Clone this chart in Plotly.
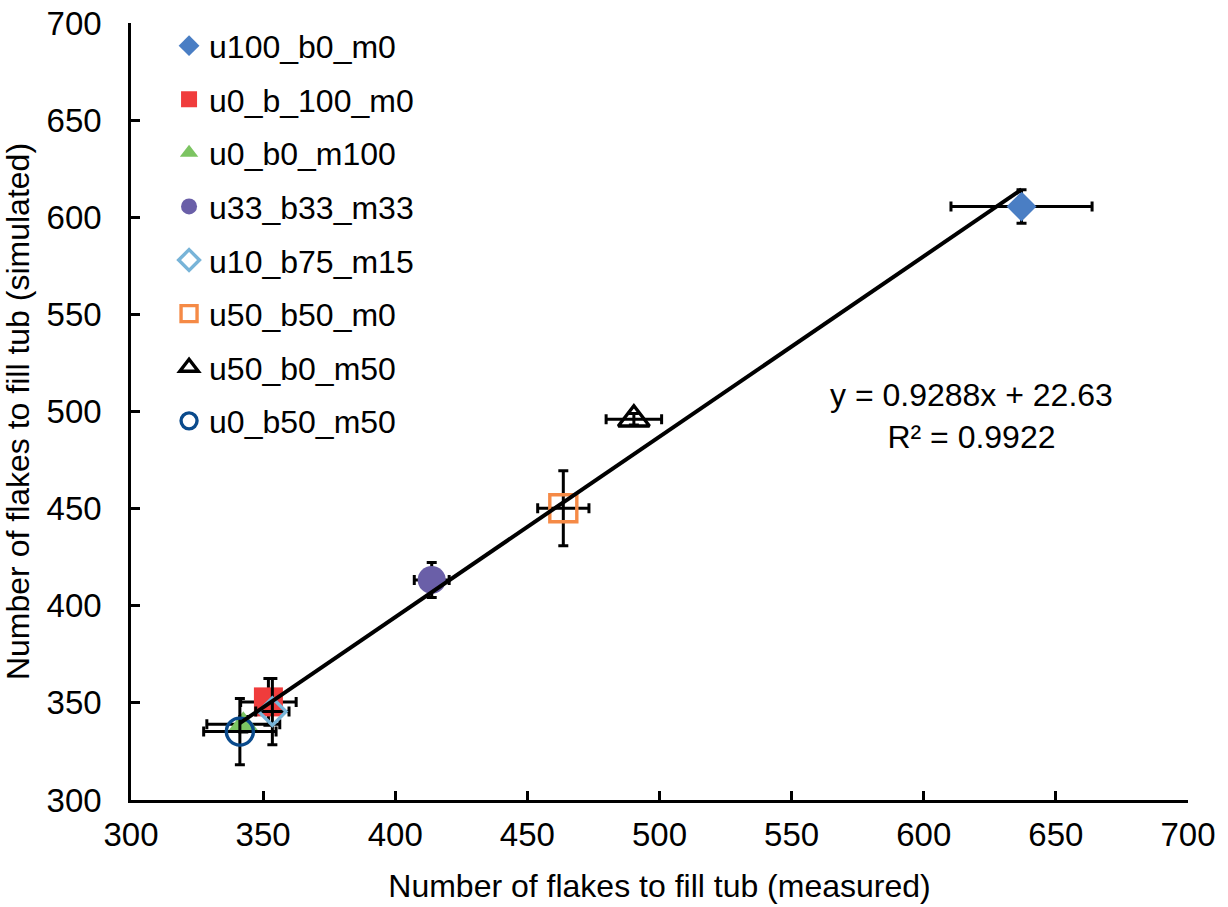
import plotly.graph_objects as go

names = ["u100_b0_m0", "u0_b_100_m0", "u0_b0_m100", "u33_b33_m33",
         "u10_b75_m15", "u50_b50_m0", "u50_b0_m50", "u0_b50_m50"]
x_measured = [637.0, 352.0, 342.5, 413.8, 353.5, 463.6, 490.3, 341.2]
y_simulated = [605.5, 350.5, 339.0, 413.3, 345.5, 450.2, 496.0, 335.2]
x_err = [26.7, 10.5, 13.8, 6.6, 6.3, 9.7, 10.5, 13.7]
y_err = [8.6, 12.0, 4.0, 9.0, 17.0, 19.3, 3.0, 17.0]

symbols = ["diamond", "square", "triangle-up", "circle",
           "diamond-open", "square-open", "triangle-up-open", "circle-open"]
colors = ["#4a7ec4", "#f03c3c", "#7cc462", "#6a5fa8",
          "#78b4d8", "#f58a46", "#000000", "#0a4a8c"]
sizes = [23, 29, 26, 28, 21, 27, 27, 27]

slope = 0.9288
intercept = 22.63
r2 = 0.9922

FONT = "Liberation Sans, Arial, sans-serif"

fig = go.Figure()
for i, n in enumerate(names):
    is_open = symbols[i].endswith("open")
    fig.add_trace(go.Scatter(
        x=[x_measured[i]], y=[y_simulated[i]], name=n, mode="markers",
        legendgroup=n,
        marker=dict(symbol=symbols[i], size=sizes[i], color=colors[i],
                    line=dict(width=3.4 if is_open else 0, color=colors[i])),
        error_x=dict(type="data", array=[x_err[i]], color="black", thickness=3, width=5),
        error_y=dict(type="data", array=[y_err[i]], color="black", thickness=3, width=5),
    ))

xmin, xmax = min(x_measured), max(x_measured)
fig.add_trace(go.Scatter(
    x=[xmin, xmax], y=[slope * xmin + intercept, slope * xmax + intercept],
    mode="lines", line=dict(color="black", width=4), showlegend=False, hoverinfo="skip"))

fig.add_annotation(
    x=618, y=497.5, xref="x", yref="y",
    text=f"y = {slope}x + {intercept}<br>R² = {r2}",
    showarrow=False, align="center", font=dict(family=FONT, size=32, color="black"))

axis_common = dict(
    range=[300, 700], dtick=50, showgrid=False, zeroline=False,
    showline=True, linecolor="black", linewidth=2.5,
    ticks="inside", ticklen=9, tickwidth=2.5, tickcolor="black",
    tickfont=dict(family=FONT, size=33, color="black"),
    automargin=False,
)

fig.update_layout(
    width=1228, height=907,
    margin=dict(l=131, r=40, t=23, b=107),
    paper_bgcolor="white", plot_bgcolor="white",
    font=dict(family=FONT, size=32, color="black"),
    xaxis=dict(**axis_common, ticklabelstandoff=4,
               title=dict(text="Number of flakes to fill tub (measured)",
                          font=dict(family=FONT, size=32, color="black"), standoff=23)),
    yaxis=dict(**axis_common, ticklabelstandoff=20,
               title=dict(text="Number of flakes to fill tub (simulated)",
                          font=dict(family=FONT, size=32, color="black"), standoff=14)),
    legend=dict(x=0.036, y=1.006, xanchor="left", yanchor="top",
                font=dict(family=FONT, size=32, color="black"),
                tracegroupgap=9, itemwidth=30, bgcolor="rgba(0,0,0,0)"),
    showlegend=True,
)

fig.write_html("out.html", config={"displayModeBar": False},
               post_script="document.body.style.margin='0';")
